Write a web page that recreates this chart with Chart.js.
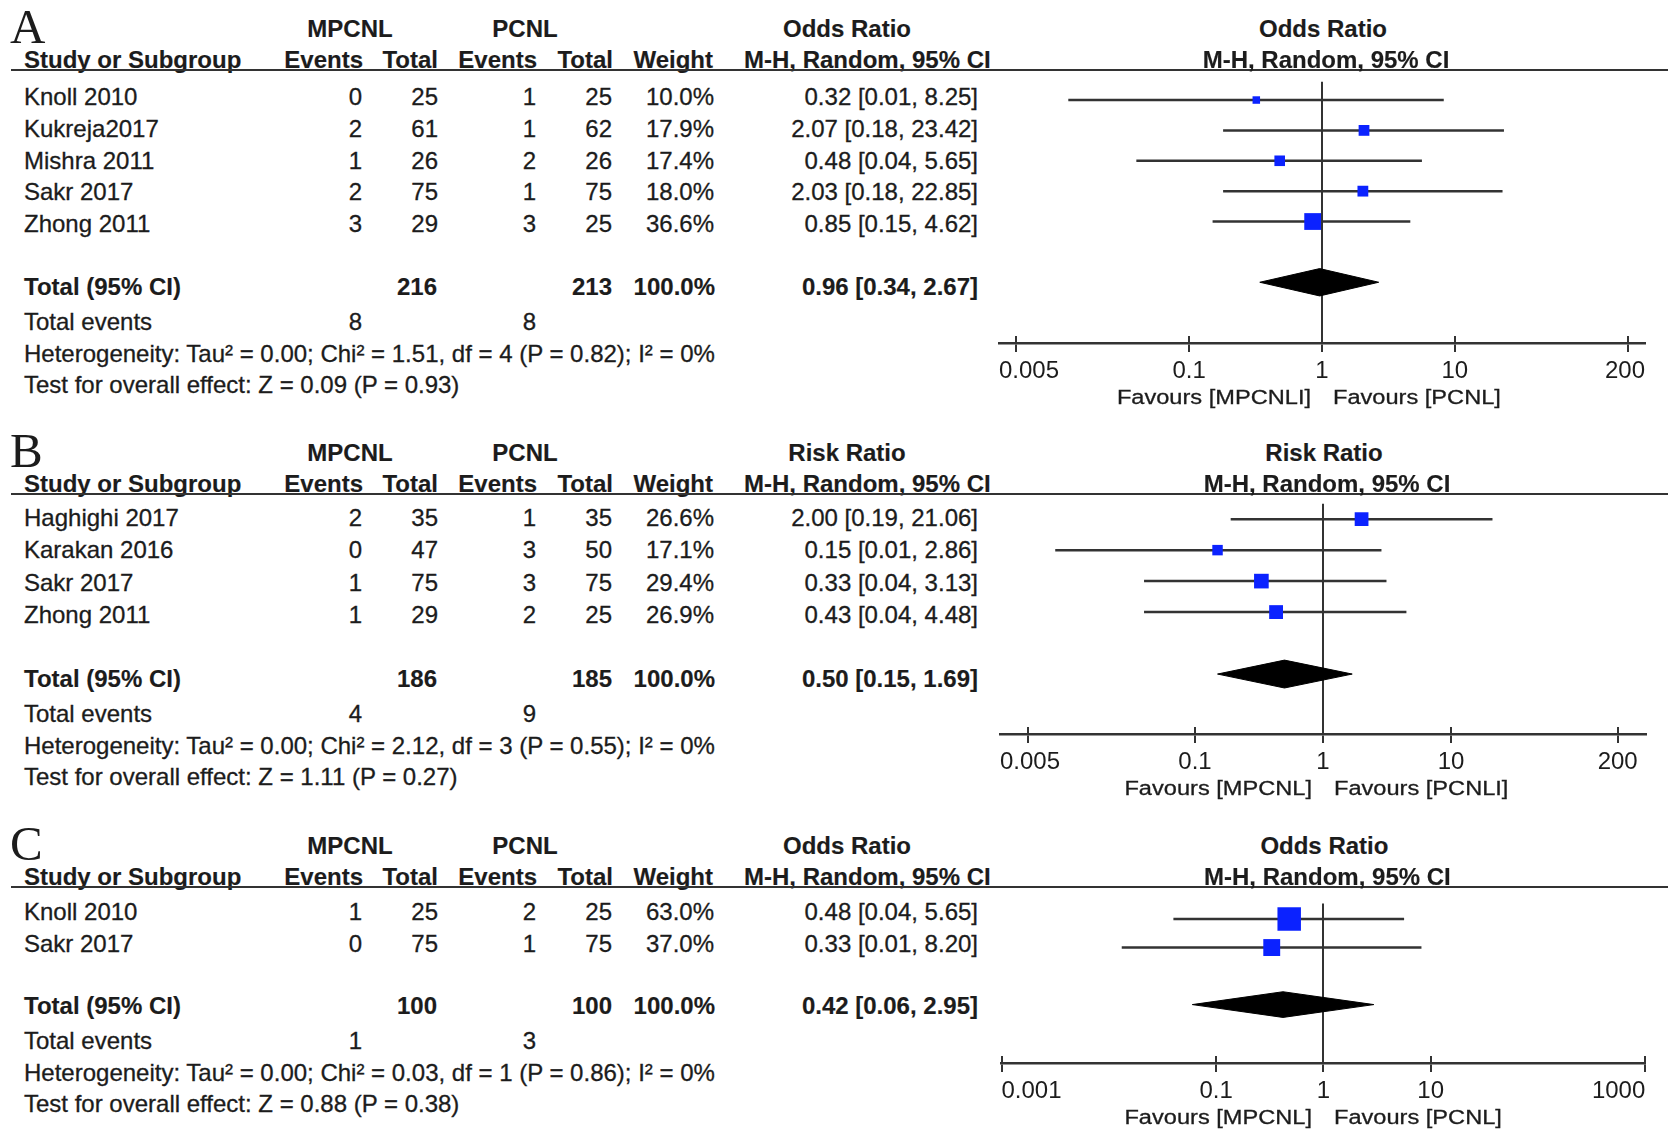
<!DOCTYPE html>
<html>
<head>
<meta charset="utf-8">
<script src="https://cdn.jsdelivr.net/npm/chart.js@4.4.0/dist/chart.umd.min.js"></script>
<style>
html,body{margin:0;padding:0;background:#fff;}
#page{position:relative;width:1677px;height:1142px;overflow:hidden;background:#fff;
  font-family:"Liberation Sans",Arial,Helvetica,sans-serif;color:#1c1c1c;}
.t{position:absolute;font-size:24px;line-height:24px;white-space:nowrap;-webkit-text-stroke:0.3px #1c1c1c;}
.b{font-weight:bold;-webkit-text-stroke:0.15px #1c1c1c;}
.big{position:absolute;font-family:"Liberation Serif","Times New Roman",serif;font-size:49px;line-height:48px;color:#1c1c1c;}
.fav{position:absolute;font-size:20px;line-height:20px;white-space:nowrap;-webkit-text-stroke:0.3px #1c1c1c;}
.hl{position:absolute;height:2.5px;background:#333;}
canvas{position:absolute;}
</style>
</head>
<body>
<div id="page"></div>
<script>
// ---------------- Panel A (Odds Ratio) ----------------
const studiesA   = ['Knoll 2010', 'Kukreja2017', 'Mishra 2011', 'Sakr 2017', 'Zhong 2011'];
const evMpcnlA   = [0, 2, 1, 2, 3];
const totMpcnlA  = [25, 61, 26, 75, 29];
const evPcnlA    = [1, 1, 2, 1, 3];
const totPcnlA   = [25, 62, 26, 75, 25];
const weightA    = [10.0, 17.9, 17.4, 18.0, 36.6];
const estA       = [0.32, 2.07, 0.48, 2.03, 0.85];
const lowA       = [0.0123, 0.18, 0.04, 0.18, 0.15];
const highA      = [8.25, 23.42, 5.65, 22.85, 4.62];
const pooledA    = [0.96, 0.34, 2.67];          // estimate, low, high
const ticksA     = [0.005, 0.1, 1, 10, 200];
const rangeA     = [0.0037, 270];
const statsA     = ['Heterogeneity: Tau\u00b2 = 0.00; Chi\u00b2 = 1.51, df = 4 (P = 0.82); I\u00b2 = 0%',
                    'Test for overall effect: Z = 0.09 (P = 0.93)'];
const favoursA   = ['Favours [MPCNLI]', 'Favours [PCNL]'];

// ---------------- Panel B (Risk Ratio) ----------------
const studiesB   = ['Haghighi 2017', 'Karakan 2016', 'Sakr 2017', 'Zhong 2011'];
const evMpcnlB   = [2, 0, 1, 1];
const totMpcnlB  = [35, 47, 75, 29];
const evPcnlB    = [1, 3, 3, 2];
const totPcnlB   = [35, 50, 75, 25];
const weightB    = [26.6, 17.1, 29.4, 26.9];
const estB       = [2.00, 0.15, 0.33, 0.43];
const lowB       = [0.19, 0.0081, 0.04, 0.04];
const highB      = [21.06, 2.86, 3.13, 4.48];
const pooledB    = [0.50, 0.15, 1.69];
const ticksB     = [0.005, 0.1, 1, 10, 200];
const rangeB     = [0.0030, 333];
const statsB     = ['Heterogeneity: Tau\u00b2 = 0.00; Chi\u00b2 = 2.12, df = 3 (P = 0.55); I\u00b2 = 0%',
                    'Test for overall effect: Z = 1.11 (P = 0.27)'];
const favoursB   = ['Favours [MPCNL]', 'Favours [PCNLI]'];

// ---------------- Panel C (Odds Ratio) ----------------
const studiesC   = ['Knoll 2010', 'Sakr 2017'];
const evMpcnlC   = [1, 0];
const totMpcnlC  = [25, 75];
const evPcnlC    = [2, 1];
const totPcnlC   = [25, 75];
const weightC    = [63.0, 37.0];
const estC       = [0.48, 0.33];
const lowC       = [0.04, 0.0132];
const highC      = [5.65, 8.20];
const pooledC    = [0.42, 0.06, 2.95];
const ticksC     = [0.001, 0.1, 1, 10, 1000];
const rangeC     = [0.001, 1000];
const statsC     = ['Heterogeneity: Tau\u00b2 = 0.00; Chi\u00b2 = 0.03, df = 1 (P = 0.86); I\u00b2 = 0%',
                    'Test for overall effect: Z = 0.88 (P = 0.38)'];
const favoursC   = ['Favours [MPCNL]', 'Favours [PCNL]'];

const FONT = '"Liberation Sans", Arial, Helvetica, sans-serif';
const BLUE = '#0b22ff';
const INK = '#1c1c1c';
const LINE = '#333333';

// layout of each panel (pixel positions on the page)
const panels = [
  {letter:'A', effect:'Odds Ratio', studies:studiesA, e1:evMpcnlA, t1:totMpcnlA, e2:evPcnlA, t2:totPcnlA,
   w:weightA, est:estA, lo:lowA, hi:highA, pooled:pooledA, ticks:ticksA, range:rangeA, stats:statsA, fav:favoursA,
   headerY:70, axisY:343, row0:89, gap:31.75, areaL:999, areaR:1645},
  {letter:'B', effect:'Risk Ratio', studies:studiesB, e1:evMpcnlB, t1:totMpcnlB, e2:evPcnlB, t2:totPcnlB,
   w:weightB, est:estB, lo:lowB, hi:highB, pooled:pooledB, ticks:ticksB, range:rangeB, stats:statsB, fav:favoursB,
   headerY:494, axisY:734, row0:510, gap:32.3, areaL:1000, areaR:1646},
  {letter:'C', effect:'Odds Ratio', studies:studiesC, e1:evMpcnlC, t1:totMpcnlC, e2:evPcnlC, t2:totPcnlC,
   w:weightC, est:estC, lo:lowC, hi:highC, pooled:pooledC, ticks:ticksC, range:rangeC, stats:statsC, fav:favoursC,
   headerY:887, axisY:1063, row0:904, gap:31.5, areaL:1001.5, areaR:1646}
];

const page = document.getElementById('page');

function txt(s, x, cy, align, bold) {
  const d = document.createElement('div');
  d.className = 't' + (bold ? ' b' : '');
  d.textContent = s;
  d.style.left = x + 'px';
  d.style.top = (cy - 12) + 'px';
  if (align === 'r') d.style.transform = 'translateX(-100%)';
  else if (align === 'c') d.style.transform = 'translateX(-50%)';
  page.appendChild(d);
  return d;
}
function fav(s, x, cy, side) {
  const d = document.createElement('div');
  d.className = 'fav';
  d.textContent = s;
  d.style.left = x + 'px';
  d.style.top = (cy - 10) + 'px';
  if (side === 'r') { d.style.transformOrigin = 'right center'; d.style.transform = 'translateX(-100%) scaleX(1.18)'; }
  else { d.style.transformOrigin = 'left center'; d.style.transform = 'scaleX(1.18)'; }
  page.appendChild(d);
}
const sum = a => a.reduce((p, c) => p + c, 0);
const ci = (e, l, h) => e.toFixed(2) + ' [' + l.toFixed(2) + ', ' + h.toFixed(2) + ']';

// tick marks crossing the axis line (upper half) + keep tick labels inside the axis extent
const axisStyle = {
  id: 'axisStyle',
  beforeDraw(chart) {
    const s = chart.scales.x, ctx = chart.ctx, area = chart.chartArea;
    const items = s.getLabelItems();
    items.forEach(it => {
      ctx.save(); ctx.font = it.font.string; const w = ctx.measureText(it.label).width; ctx.restore();
      const x = it.options.translation[0];
      if (x - w / 2 < area.left) { it.options.translation[0] = area.left; it.options.textAlign = 'left'; }
      else if (x + w / 2 > area.right) { it.options.translation[0] = area.right; it.options.textAlign = 'right'; }
    });
  },
  afterDraw(chart) {
    const s = chart.scales.x, ctx = chart.ctx, y = chart.chartArea.bottom;
    ctx.save(); ctx.strokeStyle = LINE; ctx.lineWidth = 2;
    s.ticks.forEach(t => {
      const px = Math.round(s.getPixelForValue(t.value));
      ctx.beginPath(); ctx.moveTo(px, y - 7); ctx.lineTo(px, y); ctx.stroke();
    });
    ctx.restore();
  }
};

const CL = 930, CW = 1677 - CL;

panels.forEach(P => {
  const n = P.studies.length;
  // ---- left table text ----
  const big = document.createElement('div');
  big.className = 'big'; big.textContent = P.letter;
  big.style.left = '10px'; big.style.top = (P.headerY - 67) + 'px';
  page.appendChild(big);

  const h1 = P.headerY - 41, h2 = P.headerY - 10;
  txt('MPCNL', 350, h1, 'c', true);
  txt('PCNL', 525, h1, 'c', true);
  txt(P.effect, 847, h1, 'c', true);
  txt('Study or Subgroup', 24, h2, 'l', true);
  txt('Events', 363, h2, 'r', true);
  txt('Total', 438, h2, 'r', true);
  txt('Events', 537, h2, 'r', true);
  txt('Total', 613, h2, 'r', true);
  txt('Weight', 713, h2, 'r', true);
  txt('M-H, Random, 95% CI', 744, h2, 'l', true);

  const hl = document.createElement('div');
  hl.className = 'hl';
  hl.style.left = '11px'; hl.style.width = (1668 - 11) + 'px'; hl.style.top = (P.headerY - 1.25) + 'px';
  page.appendChild(hl);

  P.studies.forEach((s, i) => {
    const cy = P.row0 + 8 + i * P.gap;
    txt(s, 24, cy, 'l');
    txt(String(P.e1[i]), 362, cy, 'r');
    txt(String(P.t1[i]), 438, cy, 'r');
    txt(String(P.e2[i]), 536, cy, 'r');
    txt(String(P.t2[i]), 612, cy, 'r');
    txt(P.w[i].toFixed(1) + '%', 714, cy, 'r');
    txt(ci(P.est[i], P.lo[i], P.hi[i]), 978, cy, 'r');
  });
  const tcy = P.row0 + 7 + (n + 1) * P.gap;
  txt('Total (95% CI)', 24, tcy, 'l', true);
  txt(String(sum(P.t1)), 437, tcy, 'r', true);
  txt(String(sum(P.t2)), 612, tcy, 'r', true);
  txt('100.0%', 715, tcy, 'r', true);
  txt(ci(P.pooled[0], P.pooled[1], P.pooled[2]), 978, tcy, 'r', true);
  txt('Total events', 24, tcy + 35, 'l');
  txt(String(sum(P.e1)), 362, tcy + 35, 'r');
  txt(String(sum(P.e2)), 536, tcy + 35, 'r');
  txt(P.stats[0], 24, tcy + 67, 'l');
  txt(P.stats[1], 24, tcy + 98, 'l');

  // ---- forest plot (Chart.js) ----
  const cv = document.createElement('canvas');
  const CH = P.axisY - P.headerY + 80;
  cv.width = CW; cv.height = CH;
  cv.style.left = CL + 'px'; cv.style.top = P.headerY + 'px';
  cv.style.width = CW + 'px'; cv.style.height = CH + 'px';
  page.appendChild(cv);

  const datasets = [];
  datasets.push({
    data: P.est.map((v, i) => ({x: v, y: i})),
    showLine: false, pointStyle: 'rect',
    pointRadius: P.w.map(w => 1.8 * Math.pow(w, 0.62) / Math.SQRT2),
    pointBackgroundColor: BLUE, pointBorderWidth: 0, pointHoverRadius: 0, order: 0, clip: false
  });
  P.est.forEach((v, i) => datasets.push({
    data: [{x: P.lo[i], y: i}, {x: P.hi[i], y: i}],
    borderColor: LINE, borderWidth: 2.5, pointRadius: 0, fill: false, order: 2
  }));
  const T = n + 1, hh = 0.45;
  datasets.push({
    data: [{x: P.pooled[1], y: T}, {x: P.pooled[0], y: T - hh}, {x: P.pooled[2], y: T},
           {x: P.pooled[0], y: T + hh}, {x: P.pooled[1], y: T}],
    borderColor: '#000', backgroundColor: '#000', borderWidth: 1, pointRadius: 0,
    fill: 'shape', tension: 0, order: 1
  });

  const opts = {
    responsive: false, animation: false, devicePixelRatio: 1,
    layout: {padding: {left: P.areaL - CL, right: (CL + CW) - P.areaR, top: 0, bottom: 0}},
    plugins: {legend: {display: false}, tooltip: {enabled: false}},
    scales: {
      x: {
        type: 'logarithmic', position: 'bottom', min: P.range[0], max: P.range[1],
        afterBuildTicks: s => { s.ticks = P.ticks.map(v => ({value: v})); },
        ticks: {autoSkip: false, maxRotation: 0, minRotation: 0, padding: 5, color: INK,
                font: {family: FONT, size: 24}, callback: v => String(v)},
        grid: {drawOnChartArea: true, lineWidth: 2, tickLength: 9, tickWidth: 2, tickColor: LINE,
               color: c => (c.tick && c.tick.value === 1) ? LINE : 'rgba(0,0,0,0)'},
        border: {display: true, color: LINE, width: 2.5}
      },
      y: {type: 'linear', reverse: true, display: false,
          min: -(P.row0 - P.headerY) / P.gap, max: (P.axisY - P.row0) / P.gap}
    }
  };
  const chart = new Chart(cv, {type: 'line', data: {datasets}, options: opts, plugins: [axisStyle]});
  const want = P.axisY - P.headerY;
  const d = chart.chartArea.bottom - want;
  if (Math.abs(d) > 0.01) { opts.layout.padding.bottom += d; chart.update('none'); }

  // ---- right header + favours ----
  const x1 = CL + chart.scales.x.getPixelForValue(1);
  txt(P.effect, x1 + 1, h1, 'c', true);
  txt('M-H, Random, 95% CI', x1 + 4, h2, 'c', true);
  fav(P.fav[0], x1 - 11, P.axisY + 54, 'r');
  fav(P.fav[1], x1 + 11, P.axisY + 54, 'l');
});
</script>
</body>
</html>
